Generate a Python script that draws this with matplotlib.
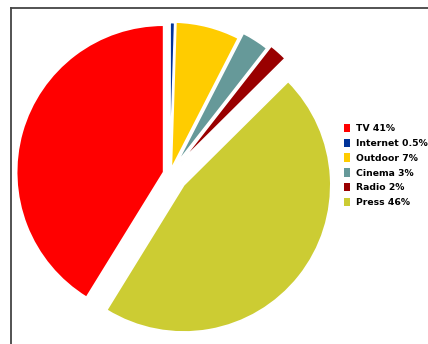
import matplotlib.pyplot as plt
from matplotlib.patches import Patch
from matplotlib.lines import Line2D

labels = ['TV 41%', 'Internet 0.5%', 'Outdoor 7%', 'Cinema 3%', 'Radio 2%', 'Press 46%']
shares = [41, 0.5, 7, 3, 2, 46]
colors = ['#FF0000', '#003399', '#FFCC00', '#669999', '#990000', '#CCCC33']
explode = [0.045, 0.03, 0.035, 0.08, 0.11, 0.12]

W, H = 428, 344
R = 147.0          # pie radius in pixels
cx, cy = 170, 174  # pie centre in pixels from top-left

fig = plt.figure(figsize=(W / 100, H / 100), dpi=100)
ax = fig.add_axes([0, 0, 1, 1])
ax.pie(shares, colors=colors, explode=explode, startangle=90 + 360 * shares[0] / sum(shares),
       counterclock=False, wedgeprops=dict(edgecolor='white', linewidth=1.2))
ax.set_xlim(-cx / R, (W - cx) / R)
ax.set_ylim(-(H - cy) / R, cy / R)
ax.set_aspect('equal')
ax.axis('off')

# frame, left and top only (cut by the image edge)
x0, y0 = 10.5 / W, 1 - 7.5 / H
fig.add_artist(Line2D([x0, x0], [0, y0], color='#444444', lw=1.3, transform=fig.transFigure))
fig.add_artist(Line2D([x0, 1], [y0, y0], color='#444444', lw=1.3, transform=fig.transFigure))

handles = [Patch(facecolor=c, edgecolor='none') for c in colors]
fig.legend(handles, labels, loc='upper left', bbox_to_anchor=(344 / W, 1 - 124 / H),
           frameon=False, prop=dict(family='DejaVu Sans', weight='bold', size=6.7),
           handlelength=0.65, handleheight=1.0, handletextpad=0.6, labelspacing=0.58,
           borderpad=0, borderaxespad=0)

fig.savefig('out.png', dpi=100)
